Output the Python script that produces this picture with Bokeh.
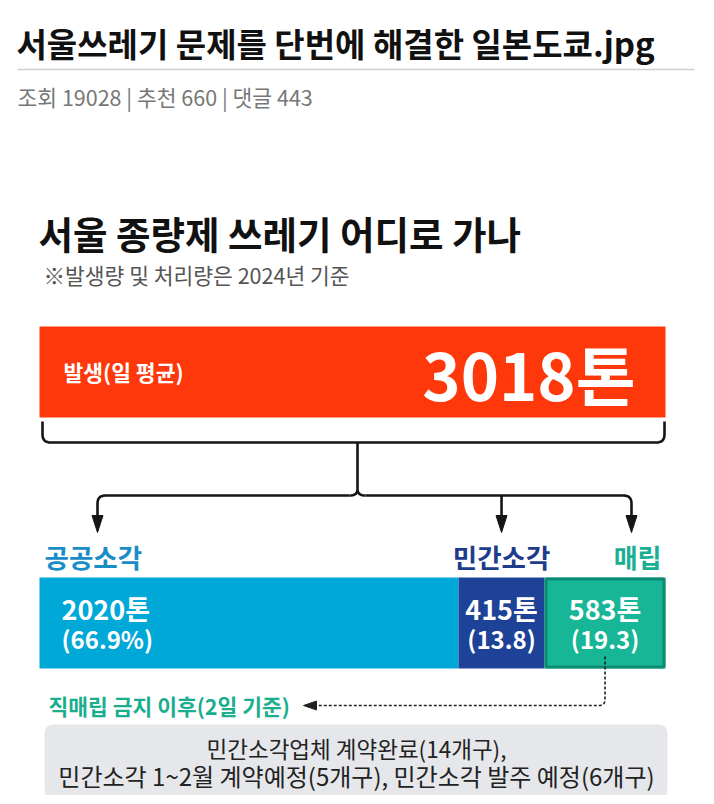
from bokeh.plotting import figure
from bokeh.models import Range1d, ColumnDataSource
from bokeh.core.properties import value
from bokeh.embed import file_html
from bokeh.resources import INLINE
import numpy as np

# ---------------- data ----------------
post_title = "서울쓰레기 문제를 단번에 해결한 일본도쿄.jpg"
post_meta = "조회 19028 | 추천 660 | 댓글 443"
chart_title = "서울 종량제 쓰레기 어디로 가나"
chart_note = "※발생량 및 처리량은 2024년 기준"
total_label = "발생(일 평균)"
total_tons = 3018
categories = ["공공소각", "민간소각", "매립"]
tons = [2020, 415, 583]
share_labels = ["(66.9%)", "(13.8)", "(19.3)"]
after_label = "직매립 금지 이후(2일 기준)"
after_lines = ["민간소각업체 계약완료(14개구),",
               "민간소각 1~2월 계약예정(5개구), 민간소각 발주 예정(6개구)"]

# ---------------- style ----------------
FONT = value("Noto Sans CJK KR")
RED = "#FE380A"
seg_colors = ["#00A8D8", "#1E4297", "#16B696"]
cat_colors = ["#1A8DC6", "#1E3C8C", "#19B091"]
LINE = "#151515"

BAR_L, BAR_R = 40, 666          # pixel extent of the full bar
PXW = BAR_R - BAR_L
OFF = 1                          # where the canvas origin lands on the picture
W, H = 698, 795


def X(px):  # image pixel -> tons
    return (px - BAR_L) * total_tons / PXW


def D(px):  # pixel length -> tons
    return px * total_tons / PXW


def T2P(t):  # tons -> image pixel
    return BAR_L + t * PXW / total_tons


p = figure(width=W, height=H, x_range=Range1d(X(OFF), X(OFF + W)),
           y_range=Range1d(OFF + H, OFF), output_backend="svg",
           toolbar_location=None, min_border=0,
           x_axis_type=None, y_axis_type=None)
p.grid.visible = False
p.outline_line_color = None
p.background_fill_color = "white"
p.border_fill_color = "white"


def txt(x, y, s, size, color, bold=False, align="left"):
    p.text(x=[x], y=[y], text=[s], text_font=FONT,
           text_font_size=f"{size}px", text_color=color,
           text_font_style="bold" if bold else "normal",
           text_align=align, text_baseline="middle")


def rounded(points, r, n=8):
    out = [points[0]]
    for i in range(1, len(points) - 1):
        A, P, B = (np.array(points[i - 1], float), np.array(points[i], float),
                   np.array(points[i + 1], float))
        ua = (A - P) / np.linalg.norm(A - P)
        ub = (B - P) / np.linalg.norm(B - P)
        p1, p2 = P + r * ua, P + r * ub
        for t in np.linspace(0, 1, n):
            q = (1 - t) ** 2 * p1 + 2 * (1 - t) * t * P + t ** 2 * p2
            out.append(tuple(q))
    out.append(points[-1])
    return out


def path(points, r=8, color=LINE, width=2.6, dash="solid"):
    pts = rounded(points, r) if (len(points) > 2 and r > 0) else points
    p.line([X(a) for a, b in pts], [b for a, b in pts], line_color=color,
           line_width=width, line_dash=dash, line_join="round", line_cap="butt")


def tri(pts, color=LINE):
    p.patch([X(a) for a, b in pts], [b for a, b in pts], fill_color=color,
            line_color=color, line_width=1)


def qcurve(a, c, b, n=10):
    return [((1 - t) ** 2 * a[0] + 2 * (1 - t) * t * c[0] + t ** 2 * b[0],
             (1 - t) ** 2 * a[1] + 2 * (1 - t) * t * c[1] + t ** 2 * b[1])
            for t in np.linspace(0, 1, n)]


# ---------------- post header ----------------
txt(X(17), 43, post_title, 33, "#111111", bold=True)
p.line([X(18), X(695)], [70, 70], line_color="#CFCFCF", line_width=1.5)
txt(X(18), 97, post_meta, 21.5, "#777777")

# ---------------- infographic title ----------------
txt(X(39), 233, chart_title, 37.5, "#111111", bold=True)
txt(X(44), 275, chart_note, 21.5, "#555555")

# ---------------- total bar ----------------
p.quad(left=[0], right=[total_tons], top=[327], bottom=[418],
       fill_color=RED, line_color=None)
txt(X(64), 372, total_label, 21.5, "white", bold=True)
txt(X(636), 373, f"{total_tons}톤", 65, "white", bold=True, align="right")

# ---------------- bracket & arrows ----------------
path([(43, 422), (43, 443), (665, 443), (665, 422)])
p.line([X(358), X(358)], [443, 490], line_color=LINE, line_width=2.6)

left_t = np.cumsum([0] + tons[:-1])
right_t = np.cumsum(tons)
centers = (left_t + right_t) / 2
arrow_x = [98, T2P(centers[1]), 632]

path([(arrow_x[0], 518), (arrow_x[0], 496), (350, 496)])
path(qcurve((350, 496), (358, 496), (358, 490)), r=0)
path(qcurve((358, 490), (358, 496), (366, 496)), r=0)
path([(366, 496), (arrow_x[2], 496), (arrow_x[2], 518)])
p.line([X(arrow_x[1]), X(arrow_x[1])], [496, 518], line_color=LINE, line_width=2.6)
for ax in arrow_x:
    tri([(ax - 5.5, 516), (ax + 5.5, 516), (ax, 533)])

# ---------------- category labels ----------------
txt(left_t[0] + D(5), 557, categories[0], 26.5, cat_colors[0], bold=True)
txt(centers[1], 557, categories[1], 26.5, cat_colors[1], bold=True, align="center")
txt(right_t[2] - D(4), 557, categories[2], 26, cat_colors[2], bold=True, align="right")

# ---------------- split bar ----------------
src = ColumnDataSource(dict(left=left_t, right=right_t, color=seg_colors))
p.quad(left="left", right="right", top=578, bottom=669, fill_color="color",
       line_color=None, source=src)
p.quad(left=[left_t[2] + D(1.5)], right=[right_t[2] - D(1.5)], top=[579.5],
       bottom=[667.5], fill_color=None, line_color="#0D8C73", line_width=3)

ton_labels = [f"{t}톤" for t in tons]
txt(left_t[0] + D(22), 609, ton_labels[0], 27, "white", bold=True)
txt(left_t[0] + D(22), 639, share_labels[0], 24, "white", bold=True)
for i in (1, 2):
    txt(centers[i], 609, ton_labels[i], 27, "white", bold=True, align="center")
    txt(centers[i], 639, share_labels[i], 24, "white", bold=True, align="center")

# ---------------- dotted pointer ----------------
dx = T2P(centers[2])
path([(dx, 657), (dx, 706), (318, 706)], r=6, color="#222222", width=1.6, dash="3 2")
tri([(304, 706), (317, 701.5), (317, 710.5)], color="#222222")
txt(X(49), 706, after_label, 21.5, "#1AAE8F", bold=True)

# ---------------- grey note box ----------------
box = rounded([(356, 725), (668, 725), (668, 801), (45, 801), (45, 725), (356, 725)], 10)
p.patch([X(a) for a, b in box], [b for a, b in box], fill_color="#E5E7EA",
        line_color=None)
txt(X(357), 748, after_lines[0], 22.5, "#222222", align="center")
txt(X(357), 776, after_lines[1], 24, "#222222", align="center")

open("out.html", "w").write(file_html(p, INLINE))
